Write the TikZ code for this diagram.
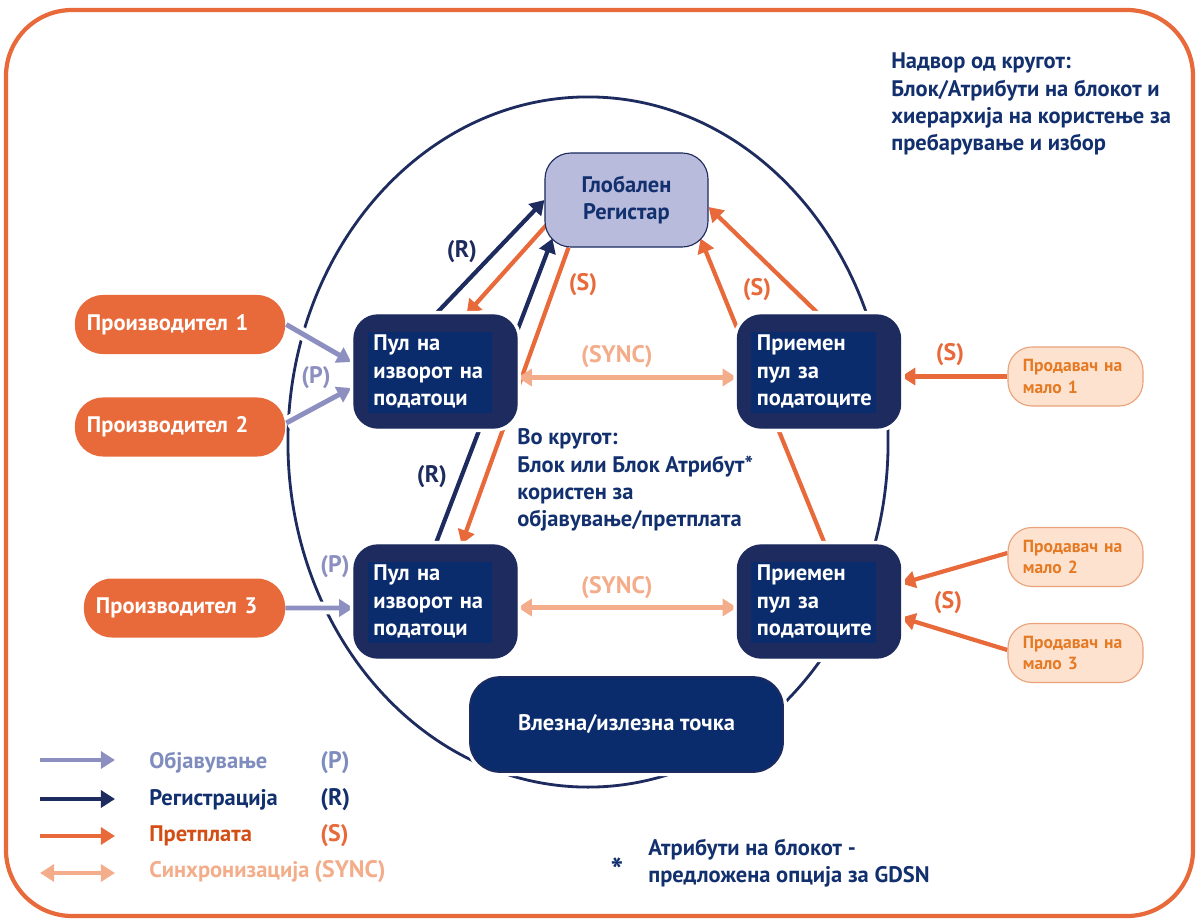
\documentclass[tikz,border=0pt]{standalone}
\usepackage{fontspec}
\setmainfont{PT Sans}
\usetikzlibrary{shapes,arrows.meta,calc}

\definecolor{navy}{HTML}{1D2B5E}
\definecolor{navyin}{HTML}{0B2C6C}
\definecolor{navytext}{HTML}{13306E}
\definecolor{lav}{HTML}{8C8FC0}
\definecolor{lavtext}{HTML}{7F8CBE}
\definecolor{regfill}{HTML}{B8BBDB}
\definecolor{orng}{HTML}{E8693A}
\definecolor{subtext}{HTML}{D24E14}
\definecolor{peach}{HTML}{F3AD8A}
\definecolor{retfill}{HTML}{FDE2CF}
\definecolor{retdraw}{HTML}{E9A27A}
\definecolor{rettext}{HTML}{E57A24}

\newcommand{\boxfont}{\fontsize{16}{19.5}\selectfont\bfseries}
\newcommand{\notefont}{\fontsize{16}{19.3}\selectfont\bfseries}
\newcommand{\retfont}{\fontsize{12.5}{15}\selectfont\bfseries}
\newcommand{\tagfont}{\fontsize{17}{18}\selectfont\bfseries}

\pgfdeclarelayer{background}
\pgfsetlayers{background,main}

\tikzstyle{pool} = [rectangle, draw=navy, line width=1pt, fill=navy, rounded corners=0.6cm, minimum width=4.075cm, minimum height=2.825cm, inner sep=0pt, text=white, text width=3.1cm, align=left, font=\boxfont, preaction={draw=white, line width=6pt}, path picture={\fill[navyin, sharp corners] ([shift={(14,17)}]path picture bounding box.north west) rectangle ([shift={(-25,-15)}]path picture bounding box.south east);}]
\tikzstyle{registry} = [rectangle, draw=navy, line width=0.8pt, fill=regfill, rounded corners=0.65cm, minimum width=4.075cm, minimum height=2.35cm, inner sep=0pt, text=navytext, align=center, font=\boxfont]
\tikzstyle{gateway} = [rectangle, draw=navy, line width=1.2pt, fill=navyin, rounded corners=0.75cm, minimum width=7.825cm, minimum height=2.375cm, inner sep=0pt, text=white, font=\boxfont, preaction={draw=white, line width=6pt}]
\tikzstyle{producer} = [rectangle, fill=orng, rounded corners=0.7cm, minimum width=5.25cm, minimum height=1.475cm, inner sep=0pt, text=white, text width=4.65cm, align=left, font=\boxfont]
\tikzstyle{retailer} = [rectangle, draw=retdraw, line width=0.8pt, fill=retfill, rounded corners=0.6cm, minimum width=3.375cm, minimum height=1.475cm, inner sep=0pt, text=rettext, text width=2.625cm, align=left, font=\retfont]
\tikzstyle{note} = [text=navytext, align=left, inner sep=0pt, font=\notefont]
\tikzstyle{arrowtag} = [inner sep=0pt, font=\tagfont]

\tikzset{
  tip/.style={-{Triangle[length=10pt,width=12pt]}},
  pub/.style={draw=lav, line width=3.5pt, tip},
  reg/.style={draw=navy, line width=3pt, tip},
  sub/.style={draw=orng, line width=3pt, tip},
  sync/.style={draw=peach, line width=3pt, {Triangle[length=10pt,width=12pt]}-{Triangle[length=10pt,width=12pt]}},
  halo/.style={preaction={draw=white, line width=9pt, -}},
  frame/.style={draw=orng, line width=3pt, rounded corners=1.65cm},
  ring/.style={draw=navy, line width=2pt}
}

\begin{document}
\begin{tikzpicture}[x=0.025cm, y=-0.025cm]
   \useasboundingbox (0,0) rectangle (1197,921);

   % nodes
   \node[registry] (gr)  at (626.5,200)   {Глобален\\Регистар};
   \node[pool] (sp1)     at (435.5,371.5) {Пул на\\изворот на\\податоци};
   \node[pool] (sp2)     at (435.5,601.5) {Пул на\\изворот на\\податоци};
   \node[pool] (rp1)     at (819,371.5)   {Приемен\\пул за\\податоците};
   \node[pool] (rp2)     at (819,601.5)   {Приемен\\пул за\\податоците};
   \node[gateway] (gw)   at (626.5,724.5) {Влезна/излезна точка};
   \node[producer] (p1)  at (180,324.5)   {Производител 1};
   \node[producer] (p2)  at (180,427)     {Производител 2};
   \node[producer, minimum width=5.025cm, text width=4.425cm] (p3) at (184.5,608) {Производител 3};
   \node[retailer] (r1)  at (1075.5,376.5) {Продавач на\\мало 1};
   \node[retailer] (r2)  at (1075.5,557)   {Продавач на\\мало 2};
   \node[retailer] (r3)  at (1075.5,653)   {Продавач на\\мало 3};

   % texts
   \node[note, anchor=west] (outside) at (891,104)
      {Надвор од кругот:\\Блок/Атрибути на блокот и\\хиерархија на користење за\\пребарување и избор};
   \node[note, anchor=west] (inside) at (517,480)
      {Во кругот:\\Блок или Блок Атрибут*\\користен за\\објавување/претплата};
   \node[note, font=\fontsize{24}{24}\selectfont\bfseries] (star) at (617,870) {*};
   \node[note, anchor=west] (foot) at (648,863)
      {Атрибути на блокот -\\предложена опција за GDSN};

   % arrow labels
   \node[arrowtag, text=lav] (tp1)    at (316,378) {(P)};
   \node[arrowtag, text=lav] (tp2)    at (335,567) {(P)};
   \node[arrowtag, text=navy] (tr1)   at (462,252) {(R)};
   \node[arrowtag, text=navy] (tr2)   at (432,477) {(R)};
   \node[arrowtag, text=orng] (ts1)   at (583,285) {(S)};
   \node[arrowtag, text=orng] (ts2)   at (757,290) {(S)};
   \node[arrowtag, text=orng] (ts3)   at (950,355) {(S)};
   \node[arrowtag, text=orng] (ts4)   at (948,603) {(S)};
   \node[arrowtag, text=peach] (tsy1) at (617,357) {(SYNC)};
   \node[arrowtag, text=peach] (tsy2) at (617,588) {(SYNC)};

   % legend
   \node[arrowtag, anchor=west, text=lavtext, font=\notefont] (lg1) at (149,763) {Објавување};
   \node[arrowtag, anchor=west, text=navytext, font=\notefont] (lg2) at (149,800) {Регистрација};
   \node[arrowtag, anchor=west, text=subtext, font=\notefont] (lg3) at (149,836) {Претплата};
   \node[arrowtag, anchor=west, text=peach, font=\notefont] (lg4) at (149,872) {Синхронизација};
   \node[arrowtag, anchor=west, text=lavtext] (lc1) at (320,763) {(P)};
   \node[arrowtag, anchor=west, text=navytext] (lc2) at (320,800) {(R)};
   \node[arrowtag, anchor=west, text=orng] (lc3) at (320,836) {(S)};
   \node[arrowtag, anchor=west, text=peach] (lc4) at (314,872) {(SYNC)};
   \coordinate (la1) at (40,760);  \coordinate (lb1) at (115,760);
   \coordinate (la2) at (40,799);  \coordinate (lb2) at (115,799);
   \coordinate (la3) at (40,836);  \coordinate (lb3) at (115,836);
   \coordinate (la4) at (40,873);  \coordinate (lb4) at (115,873);

   % edges
   \begin{pgfonlayer}{background}
   \draw[frame] (6,10) rectangle (1193,916);
   \draw[ring] (588,442) ellipse [x radius=7.5cm, y radius=8.625cm];

   \draw[pub, halo] ($(p1.east)+(1,0)$) -- ($(sp1.west)+(-2,-9.5)$);
   \draw[pub, halo] ($(p2.east)+(1,-4)$) -- ($(sp1.west)+(-2,16.5)$);
   \draw[pub, halo] (p3.east) -- ($(sp2.west)+(0,6.5)$);

   \draw[reg] (sp1.north) -- (gr.west);
   \draw[reg] (sp2.north) -- ($(gr.south west)+(8,-9)$);

   \draw[sub] ($(gr.west)+(2,25)$) -- ($(sp1.north)+(31,0)$);
   \draw[sub] ($(gr.south)+(-58,0)$) -- ($(sp2.north)+(26,0)$);
   \draw[sub] (rp1.north) -- ($(gr.east)+(0,7)$);
   \draw[sub] ($(rp2.north)+(6,0)$) -- ($(gr.south east)+(-8,-9)$);

   \draw[sub, halo] (r1.west) -- ($(rp1.east)+(0,5)$);
   \draw[sub, halo] ($(r2.west)+(0,-4)$) -- ($(rp2.east)+(0,-18)$);
   \draw[sub, halo] ($(r3.west)+(0,-3)$) -- ($(rp2.east)+(0,16)$);

   \draw[sync] ($(sp1.east)+(0,6)$) -- ($(rp1.west)+(0,6)$);
   \draw[sync] ($(sp2.east)+(0,6)$) -- ($(rp2.west)+(0,6)$);

   \draw[pub] (la1) -- (lb1);
   \draw[reg] (la2) -- (lb2);
   \draw[sub] (la3) -- (lb3);
   \draw[sync] (la4) -- (lb4);
   \end{pgfonlayer}
\end{tikzpicture}
\end{document}
